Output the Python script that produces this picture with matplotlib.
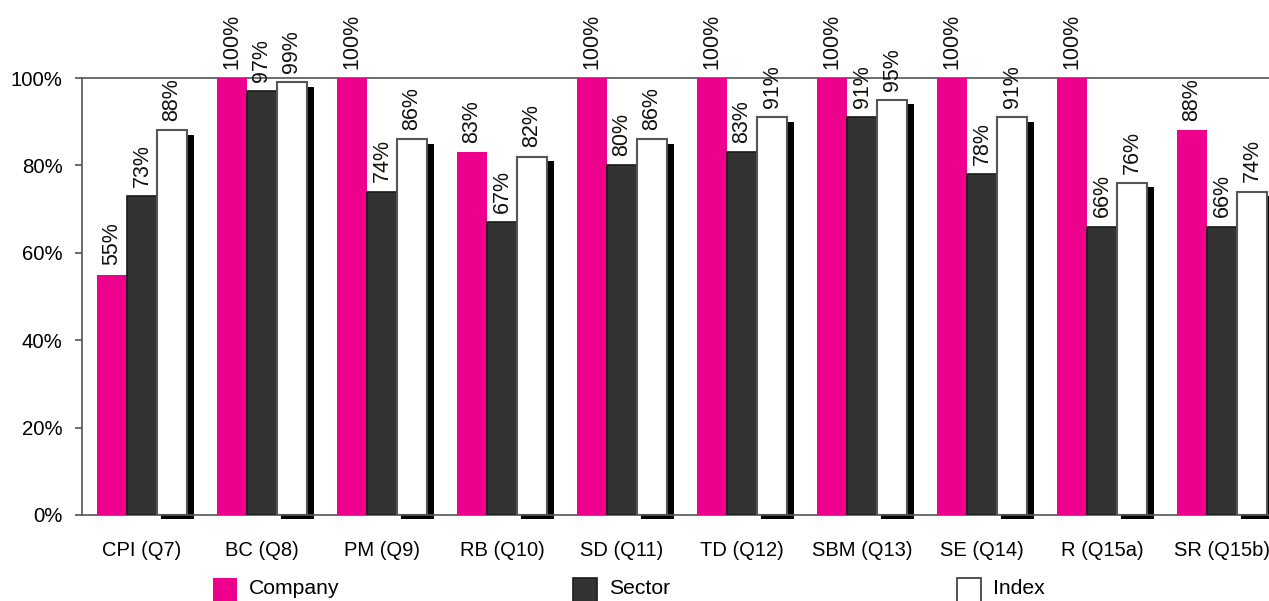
import matplotlib
matplotlib.use("Agg")
import matplotlib.pyplot as plt
from matplotlib.patches import Rectangle
import numpy as np

plt.rcParams['font.family'] = ['Liberation Sans', 'DejaVu Sans']

categories = ["CPI (Q7)", "BC (Q8)", "PM (Q9)", "RB (Q10)", "SD (Q11)",
              "TD (Q12)", "SBM (Q13)", "SE (Q14)", "R (Q15a)", "SR (Q15b)"]
company = [55, 100, 100, 83, 100, 100, 100, 100, 100, 88]
sector = [73, 97, 74, 67, 80, 83, 91, 78, 66, 66]
index = [88, 99, 86, 82, 86, 91, 95, 91, 76, 74]
series_names = ["Company", "Sector", "Index"]
yticks = [0, 20, 40, 60, 80, 100]

W, H = 1269, 601
fig = plt.figure(figsize=(W / 100, H / 100), dpi=100)
ax = fig.add_axes([82 / W, (H - 515) / H, 1200 / W, (515 - 78) / H])

x = np.arange(len(categories))
bw = 0.25
c_col = "#EC008C"
s_col = "#333333"

ax.bar(x - bw, company, bw, color=c_col, edgecolor="none", zorder=3)
ax.bar(x, sector, bw, color=s_col, edgecolor="#1a1a1a", linewidth=1.2, zorder=3)
# shadow for index bars (slightly offset right and down)
ax.bar(x + bw / 2 + 0.033, index, bw + 0.025, bottom=-1.0, color="black",
       edgecolor="none", zorder=2, clip_on=False, align="edge")
ax.bar(x + bw, index, bw, color="white", edgecolor="#555555", linewidth=1.5, zorder=3)

for vals, off in ((company, -bw), (sector, 0), (index, bw)):
    for xi, v in zip(x, vals):
        ax.text(xi + off, v + 2.1, f"{v}%", rotation=90, ha="center", va="bottom",
                fontsize=15.5, color="#111111", clip_on=False)

ax.set_xlim(-0.5, len(categories) - 0.5)
ax.set_ylim(0, 100)
ax.set_yticks(yticks)
ax.set_yticklabels([f"{t}%" for t in yticks], fontsize=14.7)
ax.set_xticks(x)
ax.set_xticklabels(categories, fontsize=14.5)
ax.tick_params(axis="x", length=0, pad=19)
ax.tick_params(axis="y", length=5, color="#555555", width=1.2, pad=9)
for side in ("left", "bottom", "top"):
    ax.spines[side].set_color("#555555")
    ax.spines[side].set_linewidth(1.2)
ax.spines["right"].set_visible(False)

# legend (manual)
handles = [(213, c_col, "none"), (573, s_col, "#1a1a1a"), (957, "white", "#333333")]
for (hx, fc, ec), name in zip(handles, series_names):
    fig.add_artist(Rectangle((hx / W, (H - 602) / H), 24 / W, 24 / H,
                             transform=fig.transFigure, facecolor=fc,
                             edgecolor=ec, linewidth=1.2))
    fig.text((hx + 36) / W, (H - 589) / H, name, fontsize=15.2, va="center", ha="left")

fig.savefig("out.png", dpi=100)
